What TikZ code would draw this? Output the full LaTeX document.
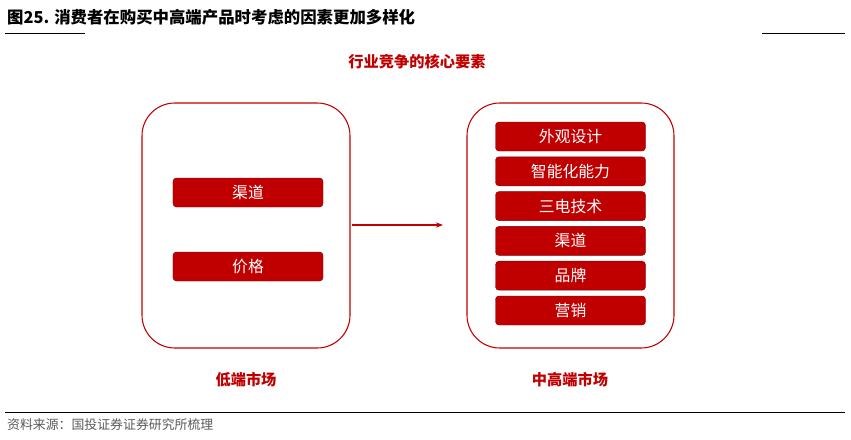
\documentclass[tikz,border=0pt]{standalone}
\usepackage{fontspec}
\setmainfont{Noto Sans CJK SC}
\usepackage{xcolor}
\definecolor{darkred}{RGB}{192, 0, 0}
\definecolor{captiongray}{RGB}{90, 90, 90}
\usetikzlibrary{arrows.meta, positioning}

\begin{document}
\begin{tikzpicture}[x=0.03cm,y=-0.03cm,
    marketbox/.style={draw=darkred, line width=0.9pt, rounded corners=28pt},
    factorbar/.style={fill=darkred, draw=darkred!70!black, rounded corners=3pt,
      minimum width=4.5cm, minimum height=0.87cm, text=white, font=\fontsize{13.5}{15}\selectfont},
    redlabel/.style={text=darkred, font=\bfseries\fontsize{13}{15}\selectfont}]
    \useasboundingbox (0,0) rectangle (851,439);
    % title and rules
    \node[anchor=west, font=\bfseries\fontsize{14}{16}\selectfont] (title) at (3,17)
      {图25. 消费者在购买中高端产品时考虑的因素更加多样化};
    \draw[thin] (5,33) -- (85,33);
    \draw[thin] (762,33) -- (845,33);
    \draw[thin] (5,412) -- (845,412);
    \node[anchor=west, text=captiongray, font=\itshape\fontsize{11}{13}\selectfont] (source) at (3,425)
      {资料来源：国投证券证券研究所梳理};
    \node[redlabel] (head) at (417,62) {行业竞争的核心要素};
    % market boxes
    \draw[marketbox] (142,103) rectangle (350,348);
    \draw[marketbox] (467,103) rectangle (674,348);
    \coordinate (lowout) at (352,225);
    \coordinate (highin) at (443,225);
    \draw[darkred, line width=1pt, -{Stealth[length=6pt]}] (lowout) -- (highin);
    % low end factors
    \node[factorbar] (low1) at (248,192.5) {渠道};
    \node[factorbar] (low2) at (248,266.5) {价格};
    % high end factors
    \foreach \T [count=\Y] in {外观设计,智能化能力,三电技术,渠道,品牌,营销} {
      \node[factorbar] (high\Y) at (570.5,{136.5+34.8*(\Y-1)}) {\T};
    }
    \node[redlabel] (lowname) at (246,380) {低端市场};
    \node[redlabel] (highname) at (570,380) {中高端市场};
  \end{tikzpicture}
\end{document}
